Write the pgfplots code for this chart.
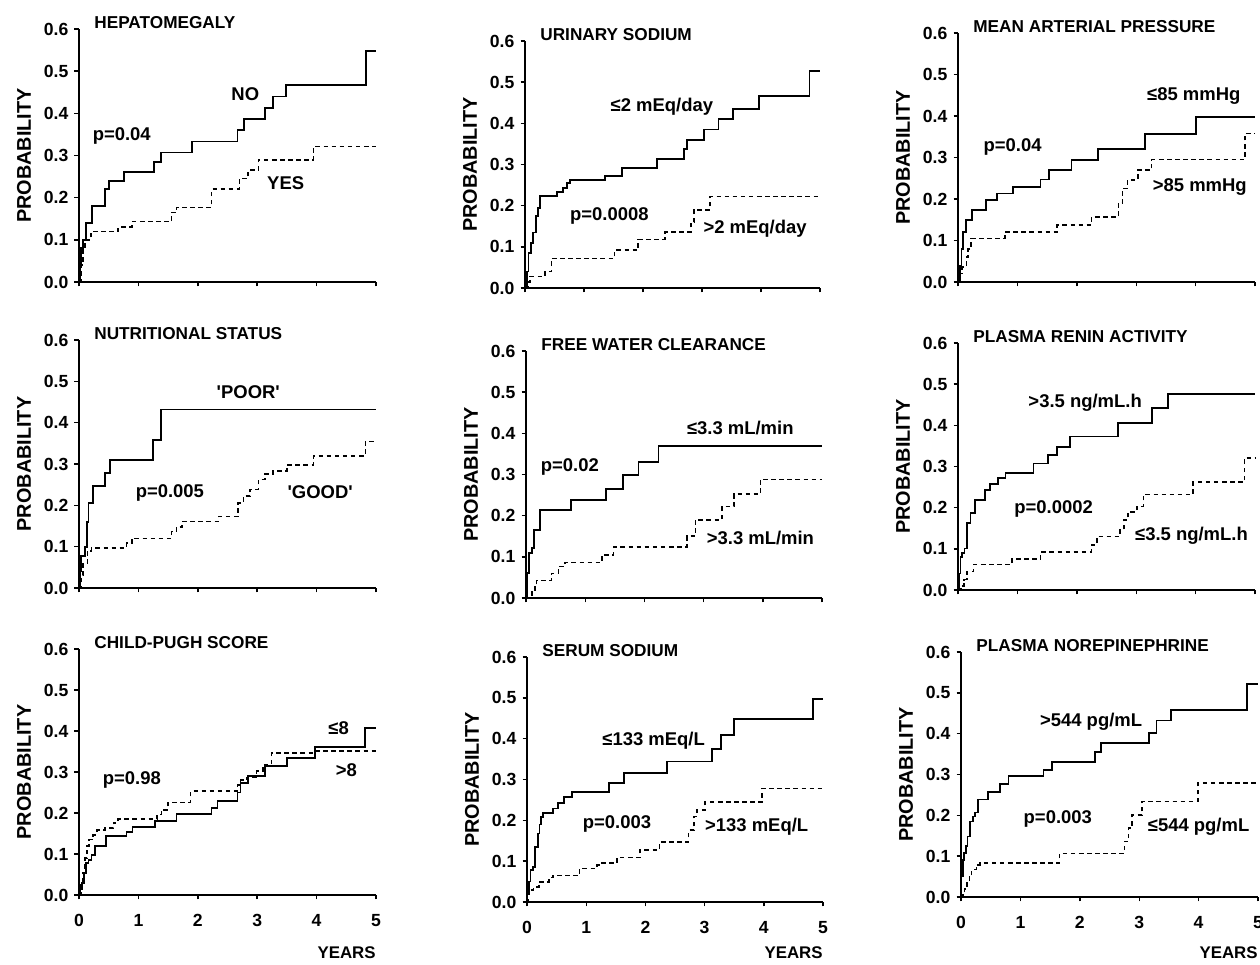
\documentclass[border=0pt]{standalone}
\usepackage{fontspec}
\setmainfont{Liberation Sans}
\usepackage{pgfplots}
\pgfplotsset{compat=1.18}

% Kaplan-Meier style panels, 1px of the reference = 0.02cm
\pgfplotsset{
  km/.style={
    scale only axis, width=5.94cm,
    xmin=0, xmax=5, ymin=0, ymax=0.6,
    axis x line*=bottom, axis y line*=left,
    axis line style={-, line width=0.9pt},
    xtick={0,1,2,3,4,5}, ytick={0,0.1,0.2,0.3,0.4,0.5,0.6},
    tick align=outside, major tick length=0.09cm,
    tick style={black, line width=0.8pt},
    /pgf/number format/assume math mode=true,
    ticklabel style={font=\fontsize{10}{12}\selectfont\bfseries},
    yticklabel style={/pgf/number format/.cd, fixed, fixed zerofill, precision=1},
    xticklabel style={yshift=-0.18cm},
    ylabel={PROBABILITY},
    every axis y label/.style={at={([xshift=-1.1cm]axis description cs:0,0.5)},
      rotate=90, anchor=center, font=\fontsize{11.3}{13}\selectfont\bfseries},
    clip=false,
  },
  notick/.style={xticklabels={}},
  years/.style={xlabel={YEARS},
    every axis x label/.style={at={([yshift=#1]axis description cs:1,0)},
      anchor=east, inner sep=0pt, font=\fontsize{9.6}{11}\selectfont\bfseries}},
  solid km/.style={const plot, black, line width=1pt},
  dash km/.style={const plot, black, line width=0.9pt, dash pattern=on 2.6pt off 2pt},
}
\tikzset{
  ttl/.style={anchor=west, font=\fontsize{9.8}{11}\selectfont\bfseries, inner sep=0pt},
  lab/.style={font=\fontsize{10.5}{12}\selectfont\bfseries, inner sep=0pt},
}

\begin{document}
\begin{tikzpicture}
\useasboundingbox (0,0) rectangle (25.2cm,19.28cm);

% ---------- row 1 ----------
\begin{axis}[km, notick, height=5.06cm, at={(1.58cm,13.64cm)}, anchor=south west]
\addplot[solid km] coordinates {(0,0) (0.02,0.04) (0.04,0.08) (0.07,0.1) (0.12,0.14) (0.22,0.18) (0.44,0.22) (0.51,0.24) (0.76,0.26) (1.26,0.285) (1.38,0.307) (1.9,0.333) (2.67,0.36) (2.78,0.386) (3.13,0.412) (3.26,0.44) (3.49,0.468) (4.83,0.547) (5,0.547)};
\addplot[dash km] coordinates {(0,0) (0.03,0.04) (0.07,0.08) (0.1,0.1) (0.2,0.12) (0.66,0.13) (0.89,0.143) (1.56,0.165) (1.64,0.177) (2.23,0.22) (2.7,0.245) (2.85,0.265) (3.02,0.29) (3.95,0.321) (5,0.321)};
\node[ttl] at ([xshift=0.3cm,yshift=0.12cm]rel axis cs:0,1) {HEPATOMEGALY};
\node[lab] at (axis cs:2.8,0.446) {NO};
\node[lab] at (axis cs:0.72,0.347) {p=0.04};
\node[lab] at (axis cs:3.48,0.234) {YES};
\end{axis}

\begin{axis}[km, notick, width=5.9cm, height=4.94cm, at={(10.5cm,13.52cm)}, anchor=south west]
\addplot[solid km] coordinates {(0,0) (0.03,0.04) (0.06,0.085) (0.1,0.11) (0.14,0.135) (0.19,0.175) (0.22,0.195) (0.25,0.223) (0.54,0.233) (0.64,0.243) (0.71,0.255) (0.76,0.262) (1.36,0.272) (1.64,0.292) (2.24,0.313) (2.7,0.338) (2.74,0.36) (3.03,0.385) (3.28,0.41) (3.52,0.435) (3.97,0.466) (4.82,0.527) (5,0.527)};
\addplot[dash km] coordinates {(0,0) (0.05,0.015) (0.08,0.028) (0.34,0.04) (0.45,0.072) (1.52,0.092) (1.92,0.118) (2.37,0.136) (2.81,0.16) (2.86,0.19) (3.14,0.222) (5,0.222)};
\node[ttl] at ([xshift=0.3cm,yshift=0.12cm]rel axis cs:0,1) {URINARY SODIUM};
\node[lab] at (axis cs:2.32,0.44) {≤2 mEq/day};
\node[lab] at (axis cs:1.43,0.174) {p=0.0008};
\node[lab] at (axis cs:3.9,0.145) {>2 mEq/day};
\end{axis}

\begin{axis}[km, notick, height=4.98cm, at={(19.16cm,13.64cm)}, anchor=south west]
\addplot[solid km] coordinates {(0,0) (0.03,0.04) (0.06,0.08) (0.09,0.12) (0.13,0.149) (0.24,0.173) (0.47,0.197) (0.65,0.213) (0.92,0.229) (1.39,0.247) (1.53,0.27) (1.91,0.294) (2.36,0.32) (3.15,0.357) (4.01,0.397) (5,0.397)};
\addplot[dash km] coordinates {(0,0) (0.04,0.02) (0.07,0.036) (0.14,0.06) (0.17,0.08) (0.22,0.105) (0.79,0.12) (1.67,0.138) (2.25,0.157) (2.7,0.19) (2.77,0.225) (2.85,0.246) (3.03,0.27) (3.26,0.295) (4.83,0.358) (5,0.358)};
\node[ttl] at ([xshift=0.3cm,yshift=0.12cm]rel axis cs:0,1) {MEAN ARTERIAL PRESSURE};
\node[lab] at (axis cs:3.97,0.447) {≤85 mmHg};
\node[lab] at (axis cs:0.92,0.326) {p=0.04};
\node[lab] at (axis cs:4.07,0.229) {>85 mmHg};
\end{axis}

% ---------- row 2 ----------
\begin{axis}[km, notick, height=4.96cm, at={(1.58cm,7.52cm)}, anchor=south west]
\addplot[solid km] coordinates {(0,0) (0.02,0.04) (0.04,0.077) (0.1,0.1) (0.13,0.16) (0.16,0.205) (0.23,0.247) (0.44,0.279) (0.52,0.31) (1.25,0.358) (1.38,0.432) (5,0.432)};
\addplot[dash km] coordinates {(0,0) (0.04,0.03) (0.07,0.06) (0.14,0.09) (0.21,0.097) (0.8,0.109) (0.89,0.12) (1.56,0.137) (1.64,0.148) (1.73,0.161) (2.35,0.173) (2.68,0.205) (2.77,0.223) (2.88,0.238) (3.02,0.262) (3.13,0.276) (3.27,0.283) (3.5,0.298) (3.95,0.32) (4.82,0.354) (5,0.354)};
\node[ttl] at ([xshift=0.3cm,yshift=0.12cm]rel axis cs:0,1) {NUTRITIONAL STATUS};
\node[lab] at (axis cs:2.85,0.475) {\textquotesingle POOR\textquotesingle};
\node[lab] at (axis cs:1.53,0.229) {p=0.005};
\node[lab] at (axis cs:4.06,0.231) {\textquotesingle GOOD\textquotesingle};
\end{axis}

\begin{axis}[km, notick, width=5.92cm, height=4.94cm, at={(10.52cm,7.32cm)}, anchor=south west]
\addplot[solid km] coordinates {(0,0) (0.02,0.06) (0.045,0.109) (0.1,0.121) (0.14,0.166) (0.24,0.214) (0.76,0.238) (1.35,0.264) (1.64,0.299) (1.9,0.331) (2.24,0.369) (5,0.369)};
\addplot[dash km] coordinates {(0,0) (0.1,0.015) (0.15,0.03) (0.18,0.042) (0.43,0.06) (0.55,0.077) (0.66,0.086) (1.28,0.105) (1.48,0.124) (2.72,0.15) (2.86,0.19) (3.31,0.222) (3.51,0.252) (3.96,0.288) (5,0.288)};
\node[ttl] at ([xshift=0.3cm,yshift=0.12cm]rel axis cs:0,1) {FREE WATER CLEARANCE};
\node[lab] at (axis cs:3.62,0.412) {≤3.3 mL/min};
\node[lab] at (axis cs:0.74,0.319) {p=0.02};
\node[lab] at (axis cs:3.96,0.145) {>3.3 mL/min};
\end{axis}

\begin{axis}[km, notick, height=4.94cm, at={(19.16cm,7.48cm)}, anchor=south west]
\addplot[solid km] coordinates {(0,0) (0.02,0.04) (0.04,0.08) (0.07,0.09) (0.11,0.101) (0.15,0.162) (0.21,0.187) (0.28,0.219) (0.46,0.243) (0.54,0.258) (0.67,0.272) (0.8,0.285) (1.27,0.307) (1.52,0.328) (1.67,0.347) (1.89,0.373) (2.69,0.405) (3.27,0.442) (3.53,0.476) (5,0.476)};
\addplot[dash km] coordinates {(0,0) (0.05,0.01) (0.1,0.025) (0.15,0.045) (0.26,0.062) (0.91,0.075) (1.39,0.092) (2.25,0.11) (2.34,0.13) (2.73,0.146) (2.79,0.17) (2.86,0.19) (3.01,0.203) (3.12,0.232) (3.96,0.262) (4.82,0.32) (5,0.32)};
\node[ttl] at ([xshift=0.3cm,yshift=0.12cm]rel axis cs:0,1) {PLASMA RENIN ACTIVITY};
\node[lab] at (axis cs:2.14,0.454) {>3.5 ng/mL.h};
\node[lab] at (axis cs:1.61,0.196) {p=0.0002};
\node[lab] at (axis cs:3.93,0.131) {≤3.5 ng/mL.h};
\end{axis}

% ---------- row 3 ----------
\begin{axis}[km, years=-1.16cm, height=4.92cm, at={(1.58cm,1.38cm)}, anchor=south west]
\addplot[solid km] coordinates {(0,0) (0.02,0.015) (0.045,0.03) (0.08,0.054) (0.12,0.078) (0.16,0.086) (0.21,0.098) (0.27,0.12) (0.46,0.143) (0.8,0.153) (0.9,0.166) (1.28,0.18) (1.64,0.198) (2.23,0.212) (2.33,0.229) (2.67,0.25) (2.72,0.273) (2.85,0.29) (3.13,0.314) (3.5,0.334) (3.97,0.361) (4.82,0.407) (5,0.407)};
\addplot[dash km] coordinates {(0,0) (0.03,0.025) (0.06,0.054) (0.1,0.09) (0.13,0.12) (0.17,0.135) (0.24,0.147) (0.3,0.158) (0.44,0.163) (0.58,0.176) (0.66,0.185) (1.31,0.196) (1.39,0.208) (1.5,0.226) (1.88,0.253) (2.67,0.269) (2.72,0.28) (2.82,0.287) (2.99,0.302) (3.1,0.318) (3.24,0.347) (3.97,0.351) (5,0.351)};
\node[ttl] at ([xshift=0.3cm,yshift=0.12cm]rel axis cs:0,1) {CHILD-PUGH SCORE};
\node[lab] at (axis cs:4.37,0.407) {≤8};
\node[lab] at (axis cs:4.5,0.304) {>8};
\node[lab] at (axis cs:0.89,0.28) {p=0.98};
\end{axis}

\begin{axis}[km, years=-1.02cm, width=5.92cm, height=4.9cm, at={(10.54cm,1.24cm)}, anchor=south west]
\addplot[solid km] coordinates {(0,0) (0.01,0.02) (0.03,0.05) (0.06,0.078) (0.1,0.086) (0.14,0.135) (0.18,0.168) (0.21,0.19) (0.24,0.209) (0.27,0.218) (0.44,0.229) (0.52,0.243) (0.63,0.258) (0.76,0.27) (1.38,0.292) (1.64,0.315) (2.37,0.344) (3.13,0.374) (3.28,0.409) (3.5,0.448) (4.83,0.497) (5,0.497)};
\addplot[dash km] coordinates {(0,0) (0.02,0.02) (0.04,0.03) (0.11,0.037) (0.2,0.049) (0.37,0.06) (0.44,0.065) (0.89,0.082) (1.18,0.09) (1.27,0.096) (1.52,0.109) (1.91,0.128) (2.24,0.147) (2.73,0.176) (2.82,0.209) (2.87,0.225) (3.01,0.245) (3.97,0.278) (5,0.278)};
\node[ttl] at ([xshift=0.3cm,yshift=0.12cm]rel axis cs:0,1) {SERUM SODIUM};
\node[lab] at (axis cs:2.14,0.395) {≤133 mEq/L};
\node[lab] at (axis cs:1.52,0.192) {p=0.003};
\node[lab] at (axis cs:3.88,0.184) {>133 mEq/L};
\end{axis}

\begin{axis}[km, years=-1.12cm, height=4.9cm, at={(19.22cm,1.34cm)}, anchor=south west]
\addplot[solid km] coordinates {(0,0) (0.01,0.05) (0.03,0.09) (0.05,0.107) (0.08,0.124) (0.11,0.148) (0.15,0.185) (0.2,0.197) (0.24,0.207) (0.28,0.239) (0.46,0.258) (0.66,0.277) (0.8,0.296) (1.39,0.311) (1.53,0.331) (2.26,0.356) (2.36,0.378) (3.16,0.402) (3.29,0.432) (3.53,0.458) (4.82,0.521) (5,0.521)};
\addplot[dash km] coordinates {(0,0) (0.03,0.01) (0.06,0.02) (0.1,0.034) (0.14,0.05) (0.18,0.067) (0.26,0.079) (0.32,0.083) (1.66,0.107) (2.75,0.136) (2.82,0.169) (2.88,0.201) (3.05,0.234) (3.99,0.279) (5,0.279)};
\node[ttl] at ([xshift=0.3cm,yshift=0.12cm]rel axis cs:0,1) {PLASMA NOREPINEPHRINE};
\node[lab] at (axis cs:2.19,0.429) {>544 pg/mL};
\node[lab] at (axis cs:1.63,0.19) {p=0.003};
\node[lab] at (axis cs:4.0,0.173) {≤544 pg/mL};
\end{axis}
\end{tikzpicture}
\end{document}
